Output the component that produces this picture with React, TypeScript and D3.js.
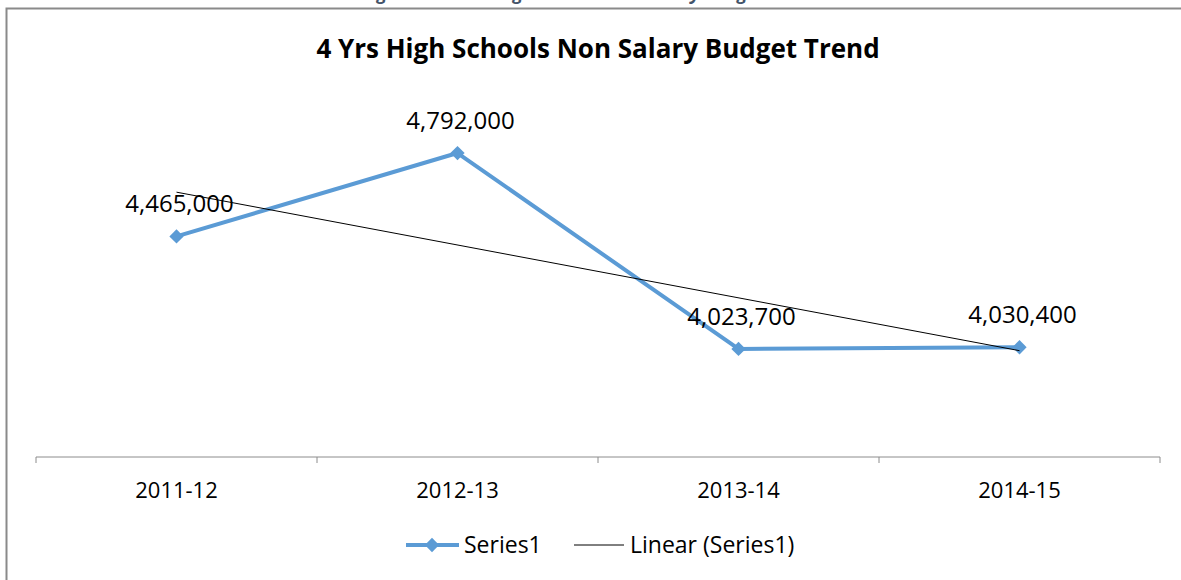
import * as React from 'react';
import * as d3 from 'd3';

const categories = ['2011-12', '2012-13', '2013-14', '2014-15'];
const series1 = [4465000, 4792000, 4023700, 4030400];
const yDomain = [3600000, 5000000];
const title = '4 Yrs High Schools Non Salary Budget Trend';
const caption = 'Figure 16: 4 Yrs High Schools Non Salary Budget Trend';
const legendLabels = ['Series1', 'Linear (Series1)'];

const W = 1181;
const H = 580;
const FONT = "'Open Sans', 'DejaVu Sans', sans-serif";
const BLUE = '#5B9BD5';

export default function App() {
  const margin = { left: 36, right: 21, top: 100, bottom: 123 };

  const x = d3.scaleBand<string>()
    .domain(categories)
    .range([margin.left, W - margin.right]);
  const y = d3.scaleLinear().domain(yDomain).range([H - margin.bottom, margin.top]);
  const cx = (c: string) => (x(c) ?? 0) + x.bandwidth() / 2;

  const pts = categories.map((c, i) => ({ c, v: series1[i] }));
  const line = d3.line<{ c: string; v: number }>().x(d => cx(d.c)).y(d => y(d.v));

  // least-squares trend on x = 1..n
  const n = series1.length;
  const xs = series1.map((_, i) => i + 1);
  const mx = d3.mean(xs) ?? 0;
  const my = d3.mean(series1) ?? 0;
  const slope = d3.sum(xs, (xi, i) => (xi - mx) * (series1[i] - my)) / d3.sum(xs, xi => (xi - mx) ** 2);
  const trend = (xi: number) => my + slope * (xi - mx);
  const t0 = trend(1);
  const t1 = trend(n);

  const axisY = y(yDomain[0]);
  const ticks = d3.range(categories.length + 1).map(i => margin.left + i * x.bandwidth());
  const fmt = d3.format(',');

  const diamond = d3.symbol().type(d3.symbolDiamond2).size(130);

  return (
    <div style={{ position: 'absolute', left: 0, top: 0 }}>
      <svg width={W} height={H} viewBox={`0 0 ${W} ${H}`} style={{ display: 'block', background: '#fff' }}>
        {/* caption of the page, mostly above the crop */}
        <text x={590} y={0} textAnchor="middle" fontFamily={FONT} fontSize={18} fontStyle="italic"
          fontWeight="bold" fill="#44546A">{caption}</text>

        {/* chart frame */}
        <path d={`M6.5,${H} V8.5 H${W}`} fill="none" stroke="#8a8a8a" strokeWidth={2} />

        <text x={598} y={58} textAnchor="middle" fontFamily={FONT} fontSize={26} fontWeight="bold" fill="#000">{title}</text>

        {/* category axis */}
        <line x1={margin.left} x2={W - margin.right} y1={axisY} y2={axisY} stroke="#8c8c8c" strokeWidth={1} />
        {ticks.map((t, i) => (
          <line key={i} x1={t} x2={t} y1={axisY} y2={axisY + 6} stroke="#8c8c8c" strokeWidth={1} />
        ))}
        {categories.map(c => (
          <text key={c} x={cx(c)} y={498} textAnchor="middle" fontFamily={FONT} fontSize={22} fill="#000">{c}</text>
        ))}

        {/* series */}
        <path d={line(pts) ?? ''} fill="none" stroke={BLUE} strokeWidth={4} strokeLinejoin="round" />
        {pts.map(p => (
          <path key={p.c} d={diamond() ?? ''} transform={`translate(${cx(p.c)},${y(p.v)})`} fill={BLUE} />
        ))}

        {/* linear trend */}
        <line x1={cx(categories[0])} y1={y(t0)} x2={cx(categories[n - 1])} y2={y(t1)} stroke="#000" strokeWidth={1} />

        {pts.map(p => (
          <text key={p.c} x={cx(p.c) + 3} y={y(p.v) - 24} textAnchor="middle" fontFamily={FONT} fontSize={24} fill="#000">
            {fmt(p.v)}
          </text>
        ))}

        {/* legend */}
        <g transform="translate(0,545)">
          <line x1={406} x2={459} y1={0} y2={0} stroke={BLUE} strokeWidth={4} />
          <path d={diamond() ?? ''} transform="translate(432,0)" fill={BLUE} />
          <text x={464} y={8} fontFamily={FONT} fontSize={23} fill="#000">{legendLabels[0]}</text>
          <line x1={574} x2={624} y1={0} y2={0} stroke="#000" strokeWidth={1} />
          <text x={630} y={8} fontFamily={FONT} fontSize={23} fill="#000">{legendLabels[1]}</text>
        </g>
      </svg>
    </div>
  );
}
